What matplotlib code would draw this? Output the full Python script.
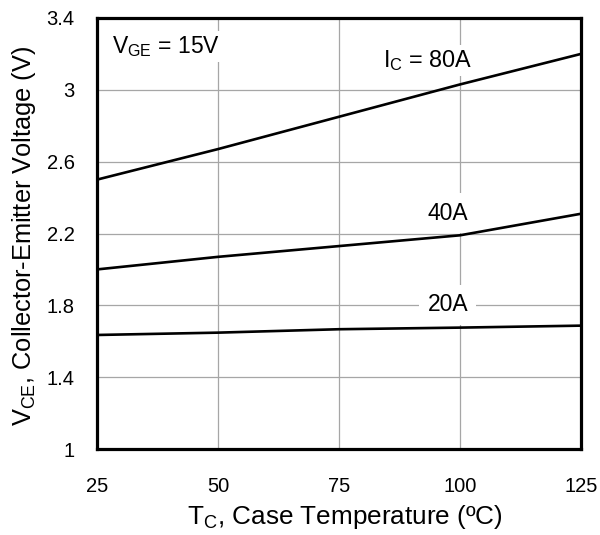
import matplotlib
matplotlib.use('Agg')
import matplotlib.pyplot as plt

plt.rcParams['font.family'] = ['Liberation Sans', 'DejaVu Sans']
plt.rcParams['mathtext.fontset'] = 'custom'
plt.rcParams['mathtext.rm'] = 'Liberation Sans'
plt.rcParams['mathtext.it'] = 'Liberation Sans'

# case temperature (C) vs collector-emitter saturation voltage (V)
temp = [25, 50, 75, 100, 125]
vce_80a = [2.50, 2.67, 2.85, 3.03, 3.20]
vce_40a = [2.00, 2.07, 2.13, 2.19, 2.31]
vce_20a = [1.635, 1.648, 1.667, 1.676, 1.687]

xticks = [25, 50, 75, 100, 125]
yticks = [1, 1.4, 1.8, 2.2, 2.6, 3, 3.4]
ytick_labels = ['1', '1.4', '1.8', '2.2', '2.6', '3', '3.4']

fig = plt.figure(figsize=(6, 5.35), dpi=100)
ax = fig.add_axes([0.1617, 0.1607, 0.8067, 0.8057])

for v in [vce_80a, vce_40a, vce_20a]:
	ax.plot(temp, v, color='black', lw=1.9, solid_capstyle='butt', zorder=3)

ax.set_xlim(25, 125)
ax.set_ylim(1, 3.4)
ax.set_xticks(xticks)
ax.set_yticks(yticks)
ax.set_yticklabels(ytick_labels)
ax.grid(True, color='#a6a6a6', lw=0.9, zorder=0)
ax.set_axisbelow(True)
ax.tick_params(length=0, labelsize=14.5)
ax.tick_params(axis='x', pad=20)
ax.tick_params(axis='y', pad=16)
for s in ax.spines.values():
	s.set_linewidth(2.3)
	s.set_zorder(4)

box = dict(facecolor='white', edgecolor='none', pad=2)
ax.text(28.1, 3.205, r'V$_{\mathrm{GE}}$ = 15V', fontsize=16.5, va='baseline', ha='left', bbox=box, zorder=2)
ax.text(84.1, 3.127, r'I$_{\mathrm{C}}$ = 80A', fontsize=16.8, va='baseline', ha='left', bbox=box, zorder=2)
ax.text(97.5, 2.314, '40A', fontsize=16.5, va='center', ha='center', bbox=dict(facecolor='white', edgecolor='none', pad=6), zorder=2)
ax.text(97.5, 1.802, '20A', fontsize=16.5, va='center', ha='center', bbox=dict(facecolor='white', edgecolor='none', pad=6), zorder=2)

fig.text(345 / 600, 1 - 517 / 535, r'T$_{\mathrm{C}}$, Case Temperature (ºC)', fontsize=18.8, ha='center', va='center')
fig.text(24 / 600, 1 - 236 / 535, r'V$_{\mathrm{CE}}$, Collector-Emitter Voltage (V)', fontsize=18.3,
	ha='center', va='center', rotation=90)

plt.savefig('out.png', dpi=100)
